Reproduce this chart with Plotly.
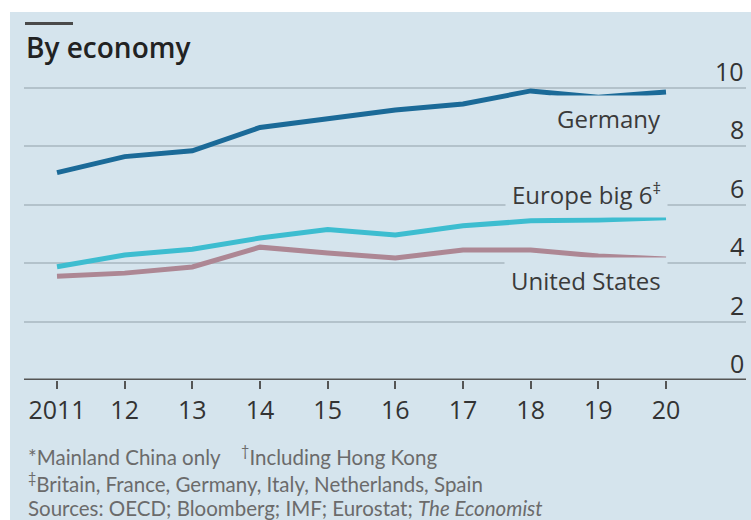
import plotly.graph_objects as go

# Data
years = [2011, 2012, 2013, 2014, 2015, 2016, 2017, 2018, 2019, 2020]
year_labels = ["2011", "12", "13", "14", "15", "16", "17", "18", "19", "20"]
germany = [7.1, 7.65, 7.85, 8.65, 8.95, 9.25, 9.45, 9.9, 9.68, 9.86]
europe_big6 = [3.88, 4.28, 4.48, 4.86, 5.15, 4.97, 5.28, 5.45, 5.48, 5.56]
united_states = [3.55, 3.66, 3.87, 4.55, 4.35, 4.18, 4.45, 4.45, 4.25, 4.14]
y_ticks = [0, 2, 4, 6, 8, 10]

# Layout geometry (pixels)
W, H = 751, 520
PL, PR, PT, PB = 24, 746, 60, 380
pw, ph = PR - PL, PB - PT


def px(x):
    return (x - PL) / pw


def py(y):
    return (PB - y) / ph


BG = "#d5e4ed"
MAIN_FONT = "Open Sans, Lato, sans-serif"
fig = go.Figure()

series = [
    ("Germany", germany, "#1b6a98"),
    ("Europe big 6", europe_big6, "#3dbdd0"),
    ("United States", united_states, "#ad8794"),
]
for name, vals, col in series:
    fig.add_trace(go.Scatter(
        x=years, y=vals, mode="lines", name=name,
        line=dict(color=col, width=5), showlegend=False,
    ))

x_span_per_year = (666 - 57) / 9
x0 = 2011 - (57 - PL) / x_span_per_year
x1 = 2020 + (PR - 666) / x_span_per_year
unit = (PB - 88) / 10
y_top = (PB - PT) / unit

fig.update_layout(
    width=W, height=H,
    margin=dict(l=PL, r=W - PR, t=PT, b=H - PB),
    paper_bgcolor="white",
    plot_bgcolor="rgba(0,0,0,0)",
    font=dict(family=MAIN_FONT, color="#333333"),
    xaxis=dict(
        range=[x0, x1], tickmode="array", tickvals=years, ticktext=year_labels,
        ticks="outside", ticklen=8, tickwidth=2, tickcolor="#555555",
        showgrid=False, zeroline=False, showline=False,
        tickfont=dict(size=25, color="#333333", family=MAIN_FONT),
    ),
    yaxis=dict(
        range=[0, y_top], tickvals=y_ticks, showticklabels=False,
        showgrid=True, gridcolor="#b3c2cb", gridwidth=1.5,
        zeroline=False, showline=False,
    ),
    shapes=[
        # panel background
        dict(type="rect", xref="paper", yref="paper", layer="below",
             x0=px(10), x1=px(751), y0=py(520), y1=py(12),
             fillcolor=BG, line=dict(width=0)),
        # short rule above the title
        dict(type="rect", xref="paper", yref="paper",
             x0=px(25), x1=px(73), y0=py(25), y1=py(22),
             fillcolor="#4a4a4a", line=dict(width=0)),
        # baseline at zero
        dict(type="line", xref="paper", yref="y",
             x0=0, x1=1, y0=0, y1=0,
             line=dict(color="#555555", width=3)),
    ],
)

annotations = [
    dict(text="By economy", x=px(24), y=py(47), xref="paper", yref="paper",
         xanchor="left", yanchor="middle", showarrow=False,
         font=dict(size=28, color="#222222", family=MAIN_FONT, weight=600)),
]
# right-hand value labels, sitting above each gridline
for v in y_ticks:
    annotations.append(dict(
        text=str(v), x=1, y=v, xref="paper", yref="y", xanchor="right",
        yanchor="bottom", showarrow=False, yshift=-2,
        font=dict(size=25, color="#333333", family=MAIN_FONT),
    ))
# series labels
label_pos = [("Germany", 118), ("Europe big 6<sup>‡</sup>", 193), ("United States", 280)]
for txt, ypix in label_pos:
    annotations.append(dict(
        text=txt, x=px(668), y=py(ypix), xref="paper", yref="paper",
        xanchor="right", yanchor="middle", showarrow=False,
        bgcolor=BG, borderpad=6,
        font=dict(size=24, color="#3a3a3a", family=MAIN_FONT),
    ))
# footnotes
foot = [
    ("*Mainland China only    <sup>†</sup>Including Hong Kong", 455),
    ("<sup>‡</sup>Britain, France, Germany, Italy, Netherlands, Spain", 482),
    ("Sources: OECD; Bloomberg; IMF; Eurostat; <i>The Economist</i>", 508),
]
for txt, ypix in foot:
    annotations.append(dict(
        text=txt, x=px(26), y=py(ypix), xref="paper", yref="paper",
        xanchor="left", yanchor="middle", showarrow=False,
        font=dict(size=20.5, color="#6b6b6b", family="Lato, sans-serif"),
    ))
fig.update_layout(annotations=annotations)

fig.write_html("out.html")
